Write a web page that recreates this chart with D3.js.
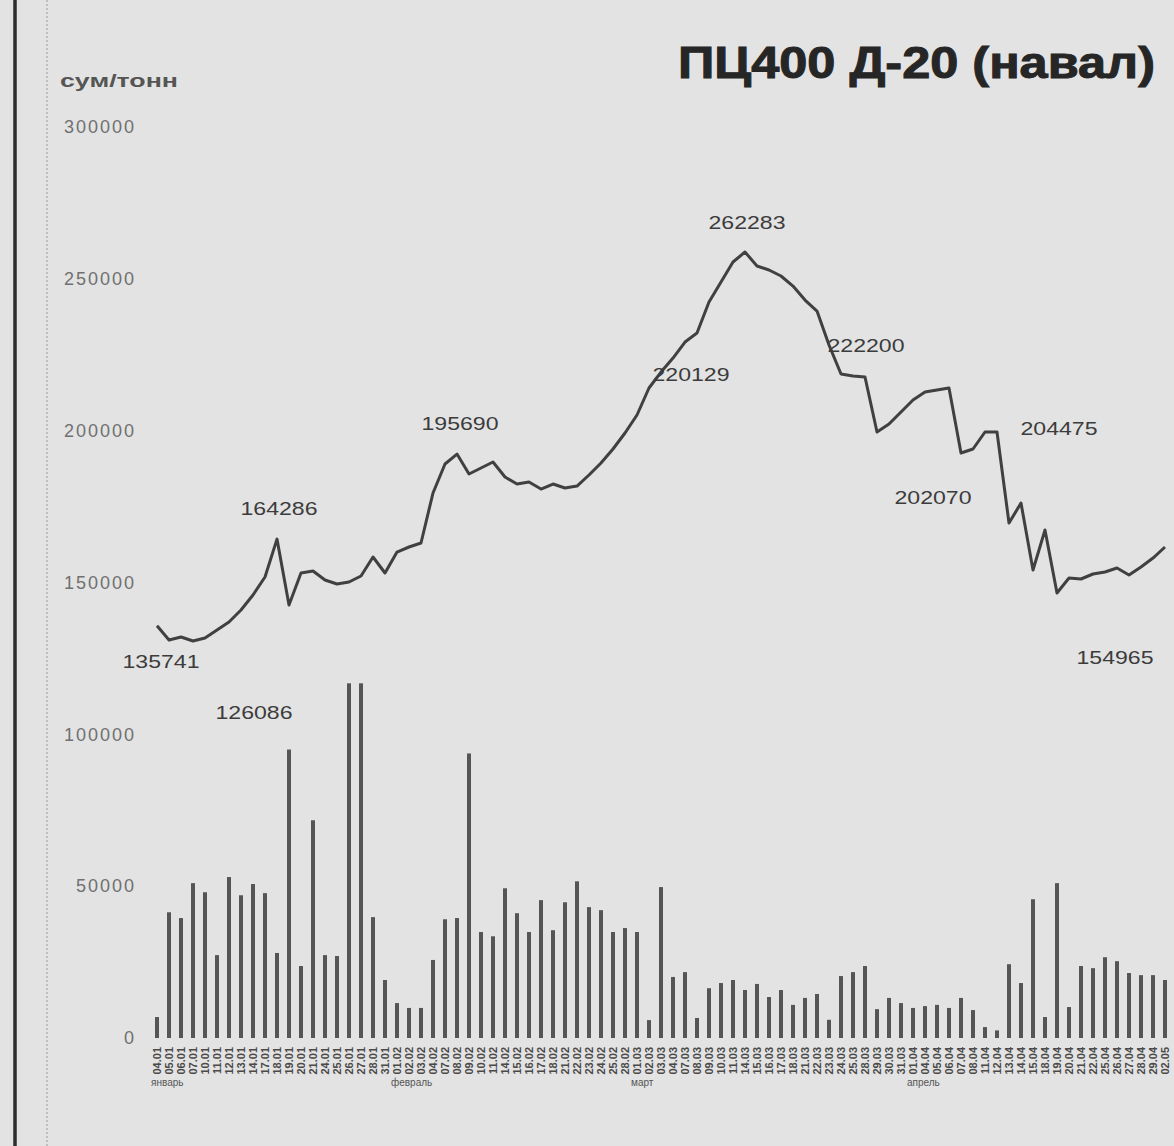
<!DOCTYPE html>
<html>
<head>
<meta charset="utf-8">
<script src="https://cdn.jsdelivr.net/npm/d3@7"></script>
<style>
  html, body { margin: 0; padding: 0; background: #e3e3e3; }
  svg { display: block; }
</style>
</head>
<body>
<div id="chart"></div>
<script>
(function () {
  "use strict";

  // --- Data ---
  const dateLabels = [
    "04.01","05.01","06.01","07.01","10.01","11.01","12.01","13.01","14.01","17.01",
    "18.01","19.01","20.01","21.01","24.01","25.01","26.01","27.01","28.01","31.01",
    "01.02","02.02","03.02","04.02","07.02","08.02","09.02","10.02","11.02","14.02",
    "15.02","16.02","17.02","18.02","21.02","22.02","23.02","24.02","25.02","28.02",
    "01.03","02.03","03.03","04.03","07.03","08.03","09.03","10.03","11.03","14.03",
    "15.03","16.03","17.03","18.03","21.03","22.03","23.03","24.03","25.03","28.03",
    "29.03","30.03","31.03","01.04","04.04","05.04","06.04","07.04","08.04","11.04",
    "12.04","13.04","14.04","15.04","18.04","19.04","20.04","21.04","22.04","25.04",
    "26.04","27.04","28.04","29.04","02.05"
  ];

  // price, сум/тонн
  const price = [
    135741, 131060, 132050, 130730, 131720, 134350, 137000, 140940, 145880, 151810,
    164286, 142590, 153130, 153790, 150820, 149500, 150160, 152140, 158400, 153130,
    160040, 161690, 163000, 179470, 189020, 192300, 185730, 187700, 189680, 184740,
    182430, 183090, 180780, 182430, 181110, 181770, 185400, 189350, 193960, 199230,
    205160, 214050, 219310, 223920, 229190, 232160, 242360, 248950, 255540, 258830,
    254220, 252900, 250930, 247630, 243020, 239400, 228200, 218650, 218000, 217670,
    199560, 202190, 206140, 210090, 212730, 213390, 214050, 192640, 193960, 199560,
    199560, 169600, 176170, 154110, 167290, 146540, 151480, 151150, 152800, 153460,
    154770, 152470, 155100, 158060, 161690
  ];

  // volume, тонн
  const volume = [
    6900, 41400, 39500, 51000, 48000, 27300, 53000, 47000, 50700, 47700,
    28000, 95000, 23700, 71700, 27300, 27000, 116800, 116800, 39800, 19100,
    11500, 9900, 9900, 25700, 39100, 39500, 93700, 34900, 33500, 49300,
    41100, 34900, 45400, 35500, 44700, 51600, 43100, 42100, 34900, 36200,
    34900, 5900, 49700, 20100, 21700, 6600, 16400, 18100, 19100, 15800,
    17800, 13500, 15800, 10900, 13200, 14500, 6000, 20400, 21700, 23700,
    9500, 13200, 11500, 9900, 10500, 10900, 9900, 13200, 9200, 3600,
    2500, 24300, 18100, 45700, 6900, 51000, 10200, 23700, 23000, 26600,
    25300, 21400, 20700, 20700, 19100
  ];

  const yTicks = [0, 50000, 100000, 150000, 200000, 250000, 300000];

  const priceNotes = [
    { i: 0, text: "135741" },
    { i: 10, text: "164286" },
    { i: 25, text: "195690" },
    { i: 42, text: "220129" },
    { i: 49, text: "262283" },
    { i: 58, text: "222200" },
    { i: 67, text: "202070" },
    { i: 70, text: "204475" },
    { i: 75, text: "154965" }
  ];
  const volumeNotes = [{ i: 11, text: "126086" }];

  const months = [
    { i: 0, text: "январь" },
    { i: 20, text: "февраль" },
    { i: 40, text: "март" },
    { i: 63, text: "апрель" }
  ];

  // --- Layout ---
  const width = 1174;
  const height = 1146;
  const ink = "#3c3c3c";

  // label offsets from the annotated point (dx, dy)
  const noteOffsets = {
    "135741": [4, 42], "164286": [2, -24], "195690": [3, -24],
    "220129": [30, 9], "262283": [2, -23], "222200": [13, -24],
    "202070": [-28, 51], "204475": [62, 3], "154965": [58, 71],
    "126086": [-35, -31]
  };

  const svg = d3.select("#chart").append("svg")
    .attr("width", width)
    .attr("height", height)
    .attr("viewBox", [0, 0, width, height]);

  svg.append("rect").attr("width", width).attr("height", height).attr("fill", "#e3e3e3");

  const x = d3.scalePoint().domain(dateLabels).range([157, 1165]);
  const y = d3.scaleLinear().domain([0, 300000]).range([1038, 127]);

  // --- Page edge lines (newspaper column rules) ---
  svg.append("line")
    .attr("x1", 15).attr("x2", 15).attr("y1", 0).attr("y2", height)
    .attr("stroke", "#2e2e2e").attr("stroke-width", 3.5);
  svg.append("line")
    .attr("x1", 47).attr("x2", 47).attr("y1", 0).attr("y2", height)
    .attr("stroke", "#b4b4b4").attr("stroke-width", 1.5)
    .attr("stroke-dasharray", "2,2");

  // --- Title / unit ---
  svg.append("text")
    .attr("x", 1155).attr("y", 78)
    .attr("text-anchor", "end")
    .attr("textLength", 477)
    .attr("lengthAdjust", "spacingAndGlyphs")
    .attr("font-family", "'Liberation Sans', Arial, sans-serif")
    .attr("font-weight", "bold")
    .attr("font-size", 44)
    .attr("fill", "#262626")
    .attr("stroke", "#262626")
    .attr("stroke-width", 1)
    .text("ПЦ400 Д-20 (навал)");

  svg.append("text")
    .attr("x", 60).attr("y", 87)
    .attr("textLength", 118)
    .attr("lengthAdjust", "spacingAndGlyphs")
    .attr("font-family", "'Liberation Sans', Arial, sans-serif")
    .attr("font-weight", "bold")
    .attr("font-size", 19)
    .attr("fill", "#555")
    .text("сум/тонн");

  // --- Y axis (labels only) ---
  const yAxis = svg.append("g")
    .attr("transform", "translate(136,0)")
    .call(d3.axisLeft(y).tickValues(yTicks).tickSize(0).tickPadding(0).tickFormat(d3.format("d")));
  yAxis.select(".domain").remove();
  yAxis.selectAll("text")
    .attr("font-family", "'Liberation Sans', Arial, sans-serif")
    .attr("font-size", 18)
    .attr("letter-spacing", 2)
    .attr("fill", "#707070");

  // --- Volume bars ---
  svg.append("g")
    .selectAll("rect")
    .data(volume)
    .join("rect")
    .attr("x", (d, i) => x(dateLabels[i]) - 2)
    .attr("width", 4)
    .attr("y", (d) => y(d))
    .attr("height", (d) => y(0) - y(d))
    .attr("fill", "#555");

  // --- Price line ---
  const line = d3.line()
    .x((d, i) => x(dateLabels[i]))
    .y((d) => y(d));

  svg.append("path")
    .datum(price)
    .attr("d", line)
    .attr("fill", "none")
    .attr("stroke", "#404040")
    .attr("stroke-width", 3)
    .attr("stroke-linejoin", "round");

  // --- Annotations ---
  function addNotes(notes, series) {
    svg.append("g")
      .selectAll("text")
      .data(notes)
      .join("text")
      .attr("x", (d) => x(dateLabels[d.i]) + noteOffsets[d.text][0])
      .attr("y", (d) => y(series[d.i]) + noteOffsets[d.text][1])
      .attr("text-anchor", "middle")
      .attr("textLength", 77)
      .attr("lengthAdjust", "spacingAndGlyphs")
      .attr("font-family", "'Liberation Sans', Arial, sans-serif")
      .attr("font-size", 19)
      .attr("fill", ink)
      .text((d) => d.text);
  }
  addNotes(priceNotes, price);
  addNotes(volumeNotes, volume);

  // --- X axis: dates, rotated ---
  svg.append("g")
    .selectAll("text")
    .data(dateLabels)
    .join("text")
    .attr("transform", (d) => `translate(${x(d) + 1},1047) rotate(-90)`)
    .attr("text-anchor", "end")
    .attr("dominant-baseline", "middle")
    .attr("font-family", "'Liberation Sans', Arial, sans-serif")
    .attr("font-size", 11)
    .attr("font-weight", "bold")
    .attr("fill", "#4a4a4a")
    .text((d) => d);

  svg.append("g")
    .selectAll("text")
    .data(months)
    .join("text")
    .attr("x", (d) => x(dateLabels[d.i]) - 6)
    .attr("y", 1086)
    .attr("font-family", "'Liberation Sans', Arial, sans-serif")
    .attr("font-size", 10)
    .attr("fill", "#555")
    .text((d) => d.text);
})();
</script>
</body>
</html>
